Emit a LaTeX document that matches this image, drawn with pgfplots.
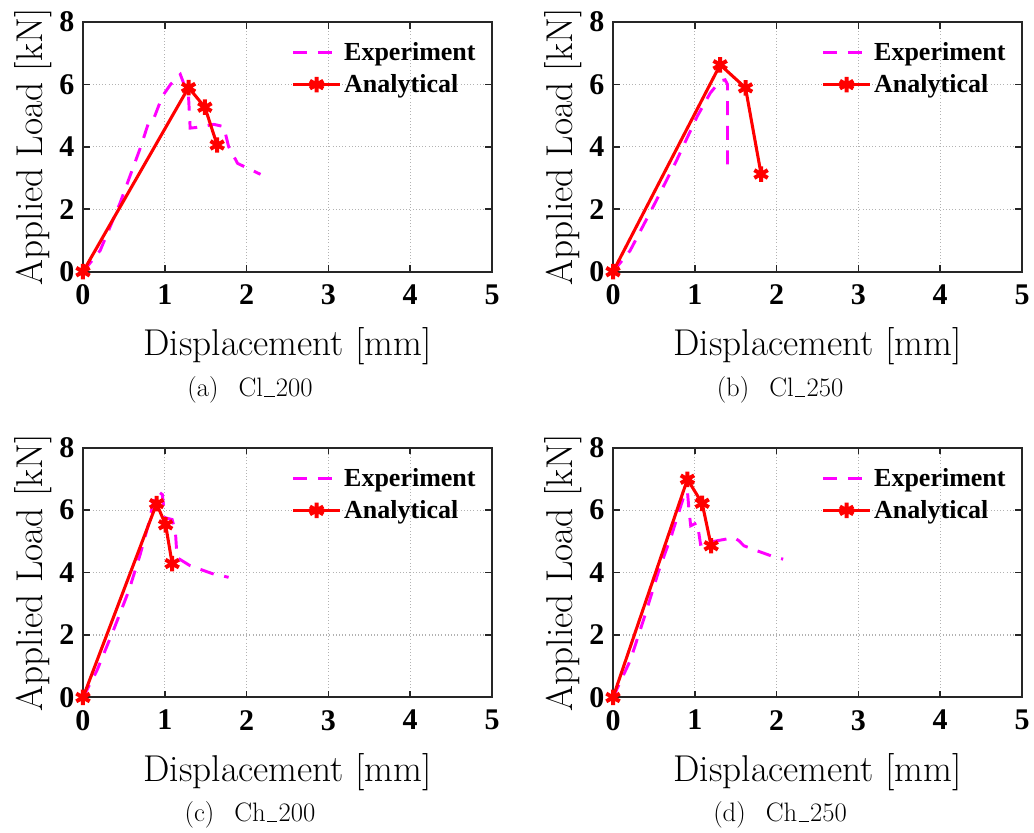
\documentclass[border=0pt]{standalone}
\usepackage{fontspec}
\usepackage{pgfplots}
\pgfplotsset{compat=1.18}
\newfontfamily\tnr{Liberation Serif}
\definecolor{mag}{RGB}{255,0,255}
\newcommand\us{\kern.05em\vbox{\hrule width.38em height 0.7pt}\kern.05em}
\tikzset{capt/.style={anchor=base, font=\fontsize{20}{22}\selectfont}}
\pgfplotsset{
 panel/.style={
  width=306.75pt, height=187.3pt, scale only axis, anchor=south west,
  xmin=0, xmax=5, ymin=0, ymax=8,
  xtick={0,1,2,3,4,5}, ytick={0,2,4,6,8},
  grid=major, grid style={dotted, black!30, line width=0.9pt},
  axis line style={line width=1.5pt, black!85},
  tick style={line width=1.2pt, black!85}, tick align=inside, major tick length=5pt,
  ticklabel style={font=\tnr\bfseries\fontsize{22.5}{22.5}\selectfont},
  xticklabel style={yshift=-6pt},
  yticklabel style={xshift=-3pt},
  /pgf/number format/assume math mode=true,
  xlabel={Displacement [mm]}, ylabel={Applied Load [kN]},
  label style={font=\fontsize{28}{30}\selectfont},
  xlabel style={at={(axis description cs:0.5,-0.335)}, anchor=base},
  ylabel style={at={(axis description cs:-0.098,0.5)}, anchor=base},
  legend style={draw=none, fill=none, at={(0.5,0.94)}, anchor=north west,
    font=\tnr\bfseries\fontsize{19.5}{19.5}\selectfont, row sep=5pt},
  legend cell align=left,
  legend image code/.code={\draw[mark repeat=2,mark phase=2,##1] plot coordinates {(0pt,0pt) (17.5pt,0pt) (35pt,0pt)};},
 },
 exper/.style={mag, line width=2.2pt, dash pattern=on 10.5pt off 8pt, no markers},
 anal/.style={red, line width=2.3pt, mark=asterisk, mark size=5.8pt, mark options={solid, line width=3pt}},
}
\begin{document}
\begin{tikzpicture}[x=1pt,y=1pt]
\path[use as bounding box] (0,0) rectangle (775.5,624);
% (a)
\begin{axis}[panel, at={(62.25pt,420.2pt)}]
\addplot[exper] coordinates {(0,0) (0.21,0.68) (0.45,2.18) (0.70,3.96) (0.80,4.76) (0.86,4.87) (0.97,5.62) (1.07,6.0) (1.19,6.32) (1.29,5.62) (1.31,4.6) (1.38,4.62) (1.6,4.72) (1.72,4.65) (1.78,4.01) (1.89,3.47) (2.17,3.12)};
\addlegendentry{Experiment}
\addplot[anal] coordinates {(0,0) (1.29,5.9) (1.49,5.27) (1.64,4.06)};
\addlegendentry{Analytical}
\end{axis}
% (b)
\begin{axis}[panel, at={(459.75pt,420.2pt)}]
\addplot[exper] coordinates {(0,0) (0.21,0.68) (0.49,2.08) (0.78,3.58) (1.03,4.98) (1.19,5.73) (1.31,6.11) (1.37,6.15) (1.40,6.0) (1.40,3.15)};
\addlegendentry{Experiment}
\addplot[anal] coordinates {(0,0) (1.31,6.63) (1.62,5.89) (1.81,3.13)};
\addlegendentry{Analytical}
\end{axis}
% (c)
\begin{axis}[panel, at={(62.25pt,100.9pt)}]
\addplot[exper] coordinates {(0,0) (0.17,0.86) (0.37,2.14) (0.56,3.42) (0.70,4.59) (0.80,5.54) (0.88,6.5) (0.93,6.58) (0.97,6.5) (1.0,5.76) (1.09,5.7) (1.13,5.3) (1.15,4.48) (1.31,4.22) (1.6,3.95) (1.78,3.85)};
\addlegendentry{Experiment}
\addplot[anal] coordinates {(0,0) (0.90,6.21) (1.01,5.53) (1.09,4.29)};
\addlegendentry{Analytical}
\end{axis}
% (d)
\begin{axis}[panel, at={(459.75pt,100.9pt)}]
\addplot[exper] coordinates {(0,0) (0.21,1.18) (0.37,2.46) (0.56,4.06) (0.72,5.23) (0.88,6.56) (0.91,6.6) (0.93,5.97) (0.95,5.5) (1.03,5.6) (1.07,4.91) (1.27,5.02) (1.48,5.12) (1.54,5.02) (1.6,4.86) (1.76,4.7) (1.93,4.54) (2.08,4.43)};
\addlegendentry{Experiment}
\addplot[anal] coordinates {(0,0) (0.91,6.99) (1.09,6.22) (1.20,4.86)};
\addlegendentry{Analytical}
\end{axis}
\node[capt] at (187.5,326.5) {(a)\hspace{0.75em}Cl\us200};
\node[capt] at (585,326.5) {(b)\hspace{0.75em}Cl\us250};
\node[capt] at (187.5,7.7) {(c)\hspace{0.75em}Ch\us200};
\node[capt] at (585,7.7) {(d)\hspace{0.75em}Ch\us250};
\end{tikzpicture}
\end{document}
